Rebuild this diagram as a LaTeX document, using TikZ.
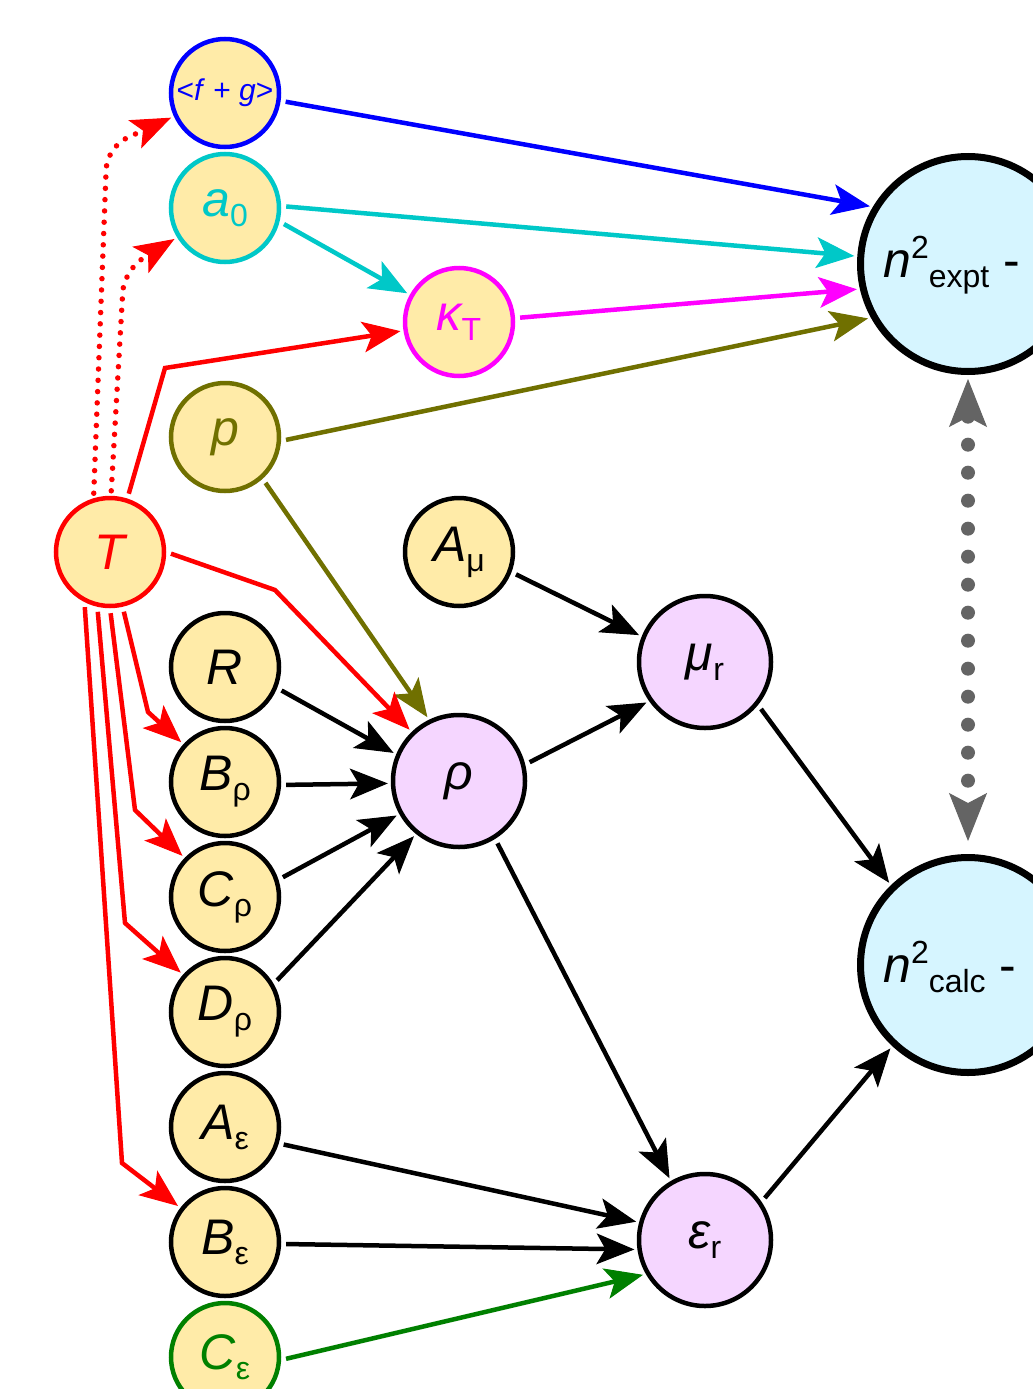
\documentclass[tikz,border=0pt]{standalone}
\usepackage{fontspec}
\setmainfont{Liberation Sans}
\usetikzlibrary{arrows.meta,calc}
\definecolor{nodeY}{RGB}{255,235,168}
\definecolor{nodeP}{RGB}{245,214,255}
\definecolor{nodeB}{RGB}{214,245,255}
\definecolor{cyanC}{RGB}{0,200,200}
\definecolor{magC}{RGB}{255,0,255}
\definecolor{blueC}{RGB}{0,0,255}
\definecolor{redC}{RGB}{255,0,0}
\definecolor{oliveC}{RGB}{112,112,0}
\definecolor{greenC}{RGB}{0,128,0}
\definecolor{grayC}{RGB}{100,100,100}
\newcommand\lsub[1]{\raisebox{-10pt}{\fontsize{32}{32}\selectfont\upshape #1}}
\newcommand\lsup[1]{\raisebox{19pt}{\fontsize{32}{32}\selectfont\upshape #1}}
\tikzset{
  smallnode/.style={circle, line width=4.5pt, inner sep=0pt, minimum size=108pt, fill=nodeY, draw=black,
    font=\fontsize{50}{58}\selectfont\itshape},
  purnode/.style={circle, line width=4.5pt, inner sep=0pt, minimum size=132pt, fill=nodeP, draw=black,
    font=\fontsize{50}{58}\selectfont\itshape},
  bignode/.style={circle, line width=7pt, inner sep=0pt, minimum size=215pt, fill=nodeB, draw=black},
  bigtext/.style={anchor=base west, inner sep=0pt, font=\fontsize{50}{58}\selectfont},
  tip/.style={-{Stealth[length=38pt,width=31pt,inset=9pt,line width=1pt]}},
  edge/.style={line width=4.5pt, tip, shorten <=5pt, shorten >=3pt},
  redline/.style={edge, redC},
  reddot/.style={line width=5.5pt, redC, line cap=round, dash pattern=on 0pt off 11.3pt, rounded corners=22pt,
    -{Stealth[length=40pt,width=31pt,inset=9pt,line width=1pt]}, shorten <=5pt, shorten >=3pt},
  graydot/.style={line width=14pt, grayC, line cap=round, dash pattern=on 0pt off 28pt,
    {Stealth[length=48pt,width=38pt,inset=10pt,line width=1pt]}-{Stealth[length=48pt,width=38pt,inset=10pt,line width=1pt]},
    shorten <=4pt, shorten >=13pt}
}
\begin{document}
\begin{tikzpicture}[x=1pt,y=-1pt]
\fill[white] (0,0) rectangle (1033,1389);
\useasboundingbox (0,0) rectangle (1033,1389);
\clip (0,0) rectangle (1033,1389);

% nodes
\node[smallnode, draw=blueC, text=blueC, font=\fontsize{30}{36}\selectfont] (fg) at (225,93) {<\textit{f} + \textit{g}>};
\node[smallnode, draw=cyanC, text=cyanC] (a0) at (225,208) {a\lsub{0}};
\node[smallnode, draw=magC, text=magC] (kT) at (459,322) {κ\lsub{T}};
\node[smallnode, draw=oliveC, text=oliveC] (p) at (225,437) {p};
\node[smallnode, draw=redC, text=redC] (T) at (110,552) {T};
\node[smallnode] (Amu) at (459,552) {A\lsub{μ}};
\node[smallnode] (R) at (225,667) {R};
\node[smallnode] (Brho) at (225,782) {B\lsub{ρ}};
\node[smallnode] (Crho) at (225,897) {C\lsub{ρ}};
\node[smallnode] (Drho) at (225,1012) {D\lsub{ρ}};
\node[smallnode] (Aeps) at (225,1127) {A\lsub{ε}};
\node[smallnode] (Beps) at (225,1242) {B\lsub{ε}};
\node[smallnode, draw=greenC, text=greenC] (Ceps) at (225,1357) {C\lsub{ε}};
\node[purnode] (mur) at (705,662) {μ\lsub{r}};
\node[purnode] (rho) at (459,781) {ρ};
\node[purnode] (epsr) at (705,1240) {ε\lsub{r}};
\node[bignode] (n2e) at (968,264) {};
\node[bignode] (n2c) at (968,965) {};
\node[bigtext] (n2et) at (883,277) {\textit{n}\lsup{2}\lsub{expt} -};
\node[bigtext] (n2ct) at (883,982) {\textit{n}\lsup{2}\lsub{calc} -};

% coloured edges
\draw[edge, blueC] (fg.-8) -- (n2e.149);
\draw[edge, cyanC] (a0.2) -- (n2e.176);
\draw[edge, cyanC] (a0.-14) -- (kT.151);
\draw[edge, magC] (kT.4) -- (n2e.-167);
\draw[edge, oliveC] (p.-4) -- (n2e.-151);
\draw[edge, oliveC] (p.-48) -- (rho.116);

% red edges from T
\draw[redline] (T.72) -- (165,368) -- (kT);
\draw[redline] (T.0) -- (275,590) -- (rho);
\draw[redline] (T.-77) -- (148,712) -- (Brho);
\draw[redline] (T.-90) -- (135,810) -- (Crho);
\draw[redline] (T.-103) -- (125,923) -- (Drho);
\draw[redline] (T.-117) -- (122,1163) -- (Beps);
\draw[reddot] (T.107) -- (107,147) -- (fg);
\draw[reddot] (T.89) -- (124,270) -- (a0);

% black edges
\draw[edge] (R.-22) -- (rho.157);
\draw[edge] (Brho.-3) -- (rho.-178);
\draw[edge] (Crho.18) -- (rho.-151);
\draw[edge] (Drho.30) -- (rho.-129);
\draw[edge] (Amu.-21) -- (mur.158);
\draw[edge] (rho.14) -- (mur.-145);
\draw[edge] (mur.-39) -- (n2c.134);
\draw[edge] (rho.-58) -- (epsr.120);
\draw[edge] (epsr.34) -- (n2c.-133);
\draw[edge] (Aeps.-17) -- (epsr.165);
\draw[edge] (Beps.-2) -- (epsr.-172);
\draw[edge, greenC] (Ceps.-3) -- (epsr.-150);

% grey comparison
\draw[graydot] (n2e.-90) -- (n2c.90);
\end{tikzpicture}
\end{document}
